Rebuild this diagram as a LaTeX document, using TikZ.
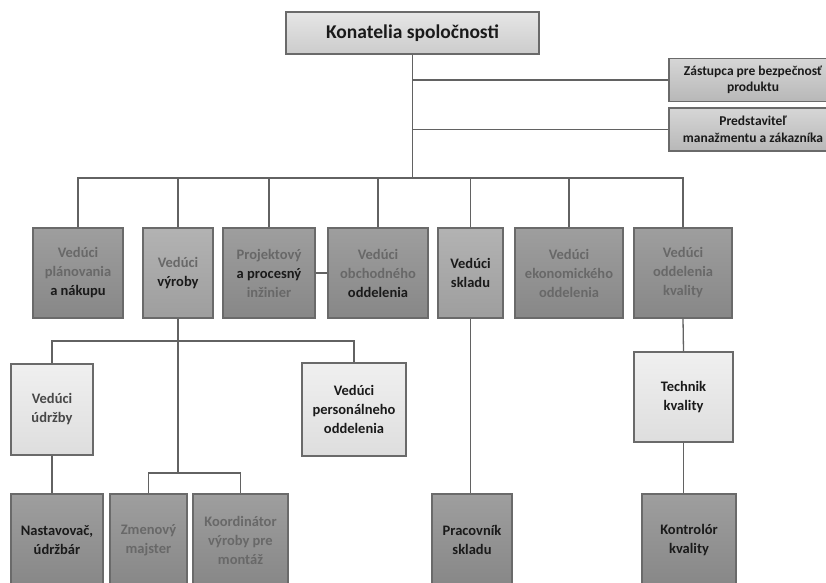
\documentclass[tikz,border=0pt]{standalone}
\usepackage{fontspec}
\setmainfont{Carlito}
\definecolor{linegray}{HTML}{626262}
\definecolor{edgegray}{HTML}{6A6A6A}
\definecolor{faintgray}{HTML}{686868}
\definecolor{darktext}{HTML}{1A1A1A}
\newcommand{\fnt}[1]{\textcolor{faintgray}{#1}}

\begin{document}
\begin{tikzpicture}[x=1pt,y=-1pt,
    box/.style={draw=edgegray,line width=1.2pt,align=center,inner sep=1pt,
        font=\bfseries\fontsize{14.5}{19}\selectfont,text=darktext},
    headbox/.style={box,top color=black!10,bottom color=black!20,
        minimum width=253pt,minimum height=42pt,font=\bfseries\fontsize{19.5}{22}\selectfont},
    sidebox/.style={box,top color=black!16,bottom color=black!28,
        minimum width=168pt,minimum height=43pt,font=\bfseries\fontsize{13.5}{16.5}\selectfont},
    darkbox/.style={box,top color=black!38,bottom color=black!47,minimum height=90pt},
    midbox/.style={box,top color=black!30,bottom color=black!38,minimum height=90pt},
    lightbox/.style={box,top color=black!6,bottom color=black!13,minimum height=91pt},
    link/.style={draw=linegray,line width=1.3pt}]
    \useasboundingbox (0,0) rectangle (826,582);
    \clip (0,0) rectangle (826,582);

    \node[headbox] (head) at (412.5,33) {Konatelia spoločnosti};
    \node[sidebox] (safety) at (753,80) {Zástupca pre bezpečnosť\\produktu};
    \node[sidebox] (rep) at (753,129.5) {Predstaviteľ\\manažmentu a zákazníka};

    \node[darkbox,minimum width=90pt] (plan) at (78,273) {\fnt{Vedúci}\\\fnt{plánovania}\\a nákupu};
    \node[midbox,minimum width=70pt] (prod) at (178,273) {\fnt{Vedúci}\\výroby};
    \node[darkbox,minimum width=92pt] (proj) at (269,273) {\fnt{Projektový}\\a procesný\\\fnt{inžinier}};
    \node[darkbox,minimum width=100pt] (sales) at (378,273) {\fnt{Vedúci}\\\fnt{obchodného}\\oddelenia};
    \node[midbox,minimum width=65pt] (store) at (470.5,273) {Vedúci\\skladu};
    \node[darkbox,minimum width=108pt] (econ) at (569,273) {\fnt{Vedúci}\\\fnt{ekonomického}\\\fnt{oddelenia}};
    \node[darkbox,minimum width=98pt] (qual) at (683,273) {\fnt{Vedúci}\\\fnt{oddelenia}\\\fnt{kvality}};

    \node[lightbox,minimum width=82pt,text=darktext!80] (maint) at (52,409.5) {Vedúci\\údržby};
    \node[lightbox,minimum width=104pt,minimum height=93pt] (staff) at (354,409.5) {Vedúci\\personálneho\\oddelenia};
    \node[lightbox,minimum width=99pt,minimum height=90pt] (tech) at (683.5,397) {Technik\\kvality};

    \node[darkbox,minimum width=92pt,minimum height=92pt] (setter) at (57,540) {Nastavovač,\\údržbár};
    \node[darkbox,minimum width=77pt,minimum height=92pt] (shift) at (148.5,540) {\fnt{Zmenový}\\\fnt{majster}};
    \node[darkbox,minimum width=95pt,minimum height=92pt] (coord) at (240.5,540) {\fnt{Koordinátor}\\\fnt{výroby pre}\\\fnt{montáž}};
    \node[darkbox,minimum width=80pt,minimum height=92pt] (worker) at (472,540) {Pracovník\\skladu};
    \node[darkbox,minimum width=94pt,minimum height=92pt] (check) at (689,540) {Kontrolór\\kvality};

    \coordinate (bus) at (0,178);
    \coordinate (prodbus) at (0,341);
    \coordinate (shiftbus) at (0,473);

    \draw[link] (head.south) -- (head.south |- bus);
    \draw[link] (head.south |- safety.west) -- (safety.west);
    \draw[link] (head.south |- rep.west) -- (rep.west);
    \draw[link] (plan.north) |- (plan.north |- bus) -| (qual.north);
    \foreach \n in {prod,proj,sales,store,econ}
        \draw[link] (\n.north) -- (\n.north |- bus);
    \draw[link] (proj.east) -- (sales.west);

    \draw[link] (prod.south) -- (prod.south |- shiftbus);
    \draw[link] (maint.north) |- (maint.north |- prodbus) -| (staff.north);
    \draw[link] (shift.north) |- (shift.north |- shiftbus) -| (coord.north);
    \draw[link] (maint.south) -- (maint.south |- setter.north);
    \draw[link] (store.south) -- (store.south |- worker.north);
    \draw[link] (qual.south) -- (tech.north);
    \draw[link] (tech.south) -- (tech.south |- check.north);
\end{tikzpicture}
\end{document}
